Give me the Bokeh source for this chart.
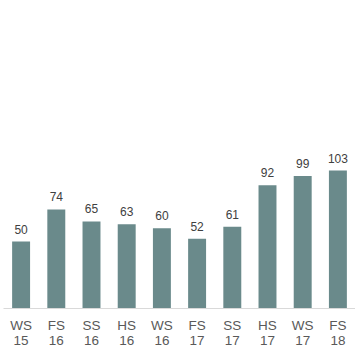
from bokeh.plotting import figure
from bokeh.models import ColumnDataSource, Range1d, FactorRange, LabelSet
from bokeh.embed import file_html
from bokeh.resources import INLINE
from bokeh.core.properties import value

terms = ["WS", "FS", "SS", "HS", "WS", "FS", "SS", "HS", "WS", "FS"]
years = ["15", "16", "16", "16", "16", "17", "17", "17", "17", "18"]
counts = [50, 74, 65, 63, 60, 52, 61, 92, 99, 103]

cats = [f"{t}\n{y}" for t, y in zip(terms, years)]
src = ColumnDataSource(dict(x=cats, y=counts, lab=[str(c) for c in counts]))

p = figure(x_range=FactorRange(*cats, range_padding=0), y_range=Range1d(0, 224),
           width=352, height=345, output_backend="svg", toolbar_location=None,
           min_border_left=0, min_border_right=0, min_border_top=0, min_border_bottom=45)
p.styles = {"margin-left": "3px", "margin-top": "8px"}
p.vbar(x="x", top="y", width=0.51, source=src, color="#6a8a8b", line_color=None)
labels = LabelSet(x="x", y="y", text="lab", source=src, text_align="center",
                  text_baseline="alphabetic", y_offset=8, text_font_size="12px",
                  text_color="#404040", text_font=value("Liberation Sans"))
p.add_layout(labels)

p.yaxis.visible = False
p.xgrid.grid_line_color = None
p.ygrid.grid_line_color = None
p.outline_line_color = None
p.xaxis.axis_line_color = "#d9d9d9"
p.xaxis.major_tick_line_color = None
p.xaxis.minor_tick_line_color = None
p.xaxis.major_label_text_font = "Liberation Sans"
p.xaxis.major_label_text_font_size = "13.5px"
p.xaxis.major_label_text_color = "#595959"
p.xaxis.major_label_standoff = 3
p.xaxis.major_label_text_line_height = 1.0
p.background_fill_color = None
p.border_fill_color = None

open("out.html", "w").write(file_html(p, INLINE))
